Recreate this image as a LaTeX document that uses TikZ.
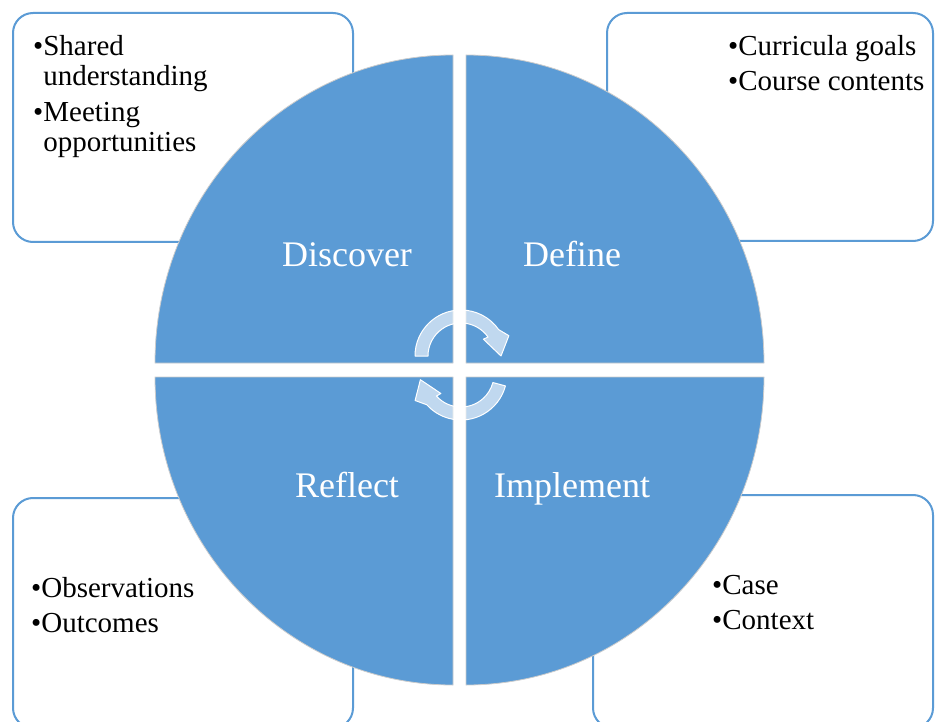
\documentclass[tikz,border=0pt]{standalone}
\usepackage{fontspec}
\setmainfont{Liberation Serif}
\definecolor{phaseblue}{RGB}{91,155,213}
\usepackage{tikz}

\begin{document}
\begin{tikzpicture}[x=1pt, y=-1pt,
  notebox/.style={draw=phaseblue, line width=2pt, rounded corners=20pt, fill=white},
  quarter/.style={fill=phaseblue, draw=gray!40, line width=0.8pt},
  phase/.style={anchor=base, text=white, inner sep=0pt, font=\fontsize{36}{40}\selectfont},
  notes/.style={anchor=north west, align=left, inner sep=0pt, font=\fontsize{29}{30.5}\selectfont},
  cyclearrow/.style={fill=white, fill opacity=0.62, draw=white, line width=1pt, line join=round}
]
  \useasboundingbox (0,0) rectangle (935,722);

  \draw[notebox] (13,13) rectangle (353,242);
  \draw[notebox] (607,13) rectangle (933,241);
  \draw[notebox] (13,498) rectangle (353,728);
  \draw[notebox] (593,495) rectangle (933,728);

  \node[notes] (discover-notes) at (33,35) {\textbullet Shared\\\hphantom{\textbullet}understanding\\[5pt]\textbullet Meeting\\\hphantom{\textbullet}opportunities};
  \node[notes] (define-notes) at (728,35) {\textbullet Curricula goals\\[5pt]\textbullet Course contents};
  \node[notes] (reflect-notes) at (31,577) {\textbullet Observations\\[5pt]\textbullet Outcomes};
  \node[notes] (implement-notes) at (712,575) {\textbullet Case\\[5pt]\textbullet Context};

  \draw[quarter] (453,363) -- (155,363) arc[start angle=180, end angle=270, x radius=298, y radius=308] -- cycle;
  \draw[quarter] (466,363) -- (466,55) arc[start angle=270, end angle=360, x radius=298, y radius=308] -- cycle;
  \draw[quarter] (466,377) -- (764,377) arc[start angle=0, end angle=90, x radius=298, y radius=308] -- cycle;
  \draw[quarter] (453,377) -- (453,685) arc[start angle=90, end angle=180, x radius=298, y radius=308] -- cycle;

  \node[phase] (discover) at (347,267) {Discover};
  \node[phase] (define) at (572,267) {Define};
  \node[phase] (reflect) at (347,497) {Reflect};
  \node[phase] (implement) at (572,497) {Implement};

  \coordinate (hub-top) at (461,356);
  \coordinate (hub-bottom) at (461,374);
  \draw[cyclearrow] ([shift={(180:46)}]hub-top) arc[start angle=180, end angle=325, radius=46]
    -- ([shift={(337:52)}]hub-top) -- ([shift={(0:40)}]hub-top) -- ([shift={(323:28)}]hub-top)
    -- ([shift={(325:33)}]hub-top) arc[start angle=325, end angle=180, radius=33] -- cycle;
  \draw[cyclearrow] ([shift={(15:46)}]hub-bottom) arc[start angle=15, end angle=138, radius=46]
    -- ([shift={(150:53)}]hub-bottom) -- ([shift={(172:41)}]hub-bottom) -- ([shift={(136:28)}]hub-bottom)
    -- ([shift={(138:33)}]hub-bottom) arc[start angle=138, end angle=15, radius=33] -- cycle;
\end{tikzpicture}
\end{document}
